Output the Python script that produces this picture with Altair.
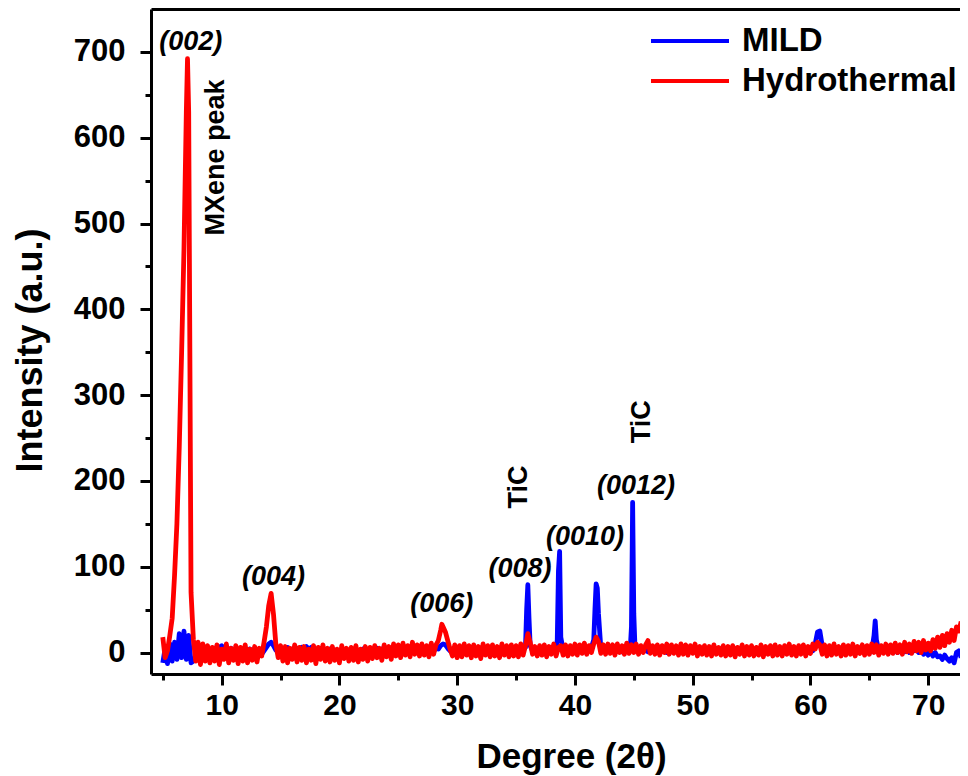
import altair as alt
import pandas as pd

FONT = "Liberation Sans"

# 2-theta grid: 5.0 .. 72.8 step 0.2 (rows of 10 = 2 degrees each)
deg_start = 5.0
deg_step = 0.2

hydro_rows = [
    [18, -6, 2, 20, 40, 90, 150, 240, 350, 470],        # 5.0
    [630, 630, 70, 15, -10, 12, -14, 10, -10, 8],       # 7.0
    [-12, 6, -10, 9, -14, 4, -8, 10, -12, 5],           # 9.0
    [-9, 8, -13, 6, -10, 9, -12, 4, -9, 7],             # 11.0
    [-11, 5, -4, 12, 30, 55, 69, 45, 10, -6],           # 13.0
    [8, -10, 7, -12, 5, -8, 9, -11, 6, -9],             # 15.0
    [7, -12, 4, -9, 8, -13, 6, -8, 9, -10],             # 17.0
    [5, -11, 7, -9, 4, -12, 8, -7, 5, -10],             # 19.0
    [6, -9, 8, -11, 4, -8, 7, -10, 6, -7],              # 21.0
    [8, -6, 5, -9, 9, -5, 7, -8, 10, -4],               # 23.0
    [9, -6, 11, -3, 8, -5, 12, -2, 9, -4],              # 25.0
    [10, -3, 8, -5, 11, -2, 9, 14, 26, 30],             # 27.0
    [24, 14, 4, -4, 9, -6, 8, -5, 10, -3],              # 29.0
    [8, -6, 9, -4, 7, -7, 10, -3, 8, -5],               # 31.0
    [9, -4, 7, -6, 10, -3, 8, -5, 9, -4],               # 33.0
    [8, -5, 10, -3, 8, 22, 12, -2, 7, -4],              # 35.0
    [8, -3, 9, -5, 7, -2, 10, -4, 6, 8],                # 37.0
    [-3, 9, -4, 8, -2, 10, -3, 9, -1, 11],              # 39.0
    [-2, 8, 0, 10, 18, 13, -1, 9, -2, 10],              # 41.0
    [-1, 9, -3, 10, 0, 8, -2, 11, -1, 9],               # 43.0
    [0, 10, -2, 8, 0, 9, 14, -1, 8, -2],                # 45.0
    [9, -3, 8, 0, 10, -2, 9, -1, 8, -3],                # 47.0
    [10, -2, 9, -3, 8, -1, 10, -4, 7, -2],              # 49.0
    [8, -3, 7, -4, 9, -2, 6, -3, 8, -4],                # 51.0
    [7, -3, 8, -5, 6, -2, 9, -4, 7, -3],                # 53.0
    [8, -4, 6, -3, 9, -5, 7, -2, 8, -4],                # 55.0
    [9, -3, 7, -4, 8, -2, 10, -3, 7, -4],               # 57.0
    [8, -2, 9, -4, 7, -1, 10, 4, 12, 9],                # 59.0
    [-2, 9, -4, 8, -3, 10, -2, 7, -4, 9],               # 61.0
    [-3, 8, -2, 10, -4, 7, -1, 9, -3, 8],               # 63.0
    [-2, 10, 0, 9, -3, 8, -1, 10, -2, 9],               # 65.0
    [-1, 11, 0, 9, -2, 12, 1, 10, -1, 13],              # 67.0
    [2, 12, 0, 14, 3, 11, 2, 15, 5, 18],                # 69.0
    [6, 20, 8, 22, 12, 26, 14, 30, 25, 36],             # 71.0
]

mild_rows = [
    [-12, 5, -13, 10, -10, 12, -8, 22, -6, 25],         # 5.0
    [-8, 20, -12, -10, -4, 2, -2, 3, -1, 2],            # 7.0
    [3, 0, 5, 1, 6, 8, 4, 7, 2, 5],                     # 9.0
    [1, 4, 0, 5, 2, 3, -1, 4, 1, 3],                    # 11.0
    [0, 3, -2, 2, 6, 10, 12, 8, 3, 5],                  # 13.0
    [2, 5, 1, 6, 3, 4, 0, 5, 2, 6],                     # 15.0
    [3, 7, 4, 6, 1, 3, -1, 2, 0, 3],                    # 17.0
    [1, 4, -1, 3, 0, 2, -2, 3, 1, 2],                   # 19.0
    [0, 3, -1, 2, 1, 4, 0, 3, -1, 4],                   # 21.0
    [2, 5, 1, 4, 0, 3, 2, 5, 1, 4],                     # 23.0
    [3, 1, 4, 2, 5, 1, 4, 2, 5, 3],                     # 25.0
    [2, 5, 1, 4, 3, 2, 5, 4, 8, 10],                    # 27.0
    [9, 5, 2, 4, 1, 3, 0, 4, 2, 3],                     # 29.0
    [1, 4, 2, 3, 0, 4, 1, 3, 2, 4],                     # 31.0
    [1, 3, 0, 4, 2, 3, 1, 4, 0, 3],                     # 33.0
    [2, 4, 1, 3, 6, 79, 8, 2, 1, 4],                    # 35.0
    [2, 3, 1, 4, 2, 3, 1, 3, 95, 18],                   # 37.0
    [3, 1, 4, 2, 3, 1, 4, 2, 3, 1],                     # 39.0
    [4, 2, 6, 15, 80, 45, 5, 2, 4, 1],                  # 41.0
    [3, 1, 4, 2, 3, 1, 4, 2, 3, 30],                    # 43.0
    [45, 3, 1, 4, 2, 3, 1, 4, 2, 3],                    # 45.0
    [1, 4, 2, 3, 0, 4, 1, 3, 2, 4],                     # 47.0
    [1, 3, 0, 4, 2, 3, 1, 4, 0, 3],                     # 49.0
    [2, 4, 1, 3, 0, 4, 2, 3, 1, 4],                     # 51.0
    [0, 3, 2, 4, 1, 3, 0, 4, 2, 3],                     # 53.0
    [1, 4, 0, 3, 2, 4, 1, 3, 0, 4],                     # 55.0
    [2, 3, 1, 4, 0, 3, 2, 4, 1, 3],                     # 57.0
    [0, 4, 2, 3, 1, 4, 2, 10, 24, 25],                  # 59.0
    [8, 2, 4, 1, 3, 0, 4, 2, 3, 1],                     # 61.0
    [4, 2, 3, 0, 4, 1, 3, 2, 4, 1],                     # 63.0
    [3, 1, 20, 15, 2, 3, 0, 4, 2, 3],                   # 65.0
    [1, 4, 0, 3, 5, 1, 3, 0, 4, 2],                     # 67.0
    [3, 0, 2, -2, 1, -3, 2, -4, 0, -5],                 # 69.0
    [-4, -8, -3, -7, -10, -6, -12, 0, 2, -6],           # 71.0
]

# extra points at peak tips (between grid points)
hydro_peak_deg = [7.1, 28.7]
hydro_peak_val = [692, 33]
mild_peak_deg = [35.9, 36.1, 38.5, 38.7, 41.7, 41.9, 42.1, 44.7, 44.9, 45.1, 65.5]
mild_peak_val = [50, 40, 15, 118, 50, 75, 25, 5, 175, 6, 37]

series_names = ["MILD", "Hydrothermal"]
series_colors = ["#0000FF", "#FF0000"]

hkl_labels = ["(002)", "(004)", "(006)", "(008)", "(0010)", "(0012)"]
hkl_deg = [7.37, 14.41, 28.69, 35.34, 40.86, 45.19]
hkl_int = [711, 88, 56, 97, 135, 194]

note_labels = ["MXene peak", "TiC", "TiC"]
note_deg = [9.53, 35.25, 45.70]
note_int = [577, 193, 269]

x_major = [10, 20, 30, 40, 50, 60, 70]
x_minor = [5, 15, 25, 35, 45, 55, 65]
y_major = [0, 100, 200, 300, 400, 500, 600, 700]
y_minor = [50, 150, 250, 350, 450, 550, 650]


def build(rows, pk_deg, pk_val, name):
    vals = [v for r in rows for v in r]
    degs = [round(deg_start + i * deg_step, 1) for i in range(len(vals))]
    d = pd.DataFrame({"deg": degs + pk_deg, "intensity": vals + pk_val})
    d["sample"] = name
    return d.sort_values("deg")


df = pd.concat([
    build(mild_rows, mild_peak_deg, mild_peak_val, "MILD"),
    build(hydro_rows, hydro_peak_deg, hydro_peak_val, "Hydrothermal"),
], ignore_index=True)

hkl_df = pd.DataFrame({"label": hkl_labels, "deg": hkl_deg, "intensity": hkl_int})
note_df = pd.DataFrame({"label": note_labels, "deg": note_deg, "intensity": note_int})

xscale = alt.Scale(domain=[4, 72.7], nice=False, zero=False)
yscale = alt.Scale(domain=[-25, 750], nice=False, zero=False)
cscale = alt.Scale(domain=series_names, range=series_colors)

legend = alt.Legend(
    orient="none", legendX=498, legendY=12, title=None,
    symbolType="stroke", symbolSize=78 * 78, symbolStrokeWidth=4,
    labelFont=FONT, labelFontSize=33, labelFontWeight="bold", labelColor="black",
    labelOffset=11, labelLimit=500, clipHeight=40, rowPadding=0, padding=0,
)

common_axis = dict(grid=False, domainColor="black", tickColor="black",
                   domainWidth=3, tickWidth=3, labelColor="black")

x_main = alt.Axis(
    orient="bottom", values=x_major, format="d", title="Degree (2θ)",
    titleFont=FONT, titleFontSize=35, titleFontWeight="bold", titleColor="black",
    titleX=420, titleY=93, titleBaseline="alphabetic", titleAlign="center",
    labelFont=FONT, labelFontSize=30, labelFontWeight="bold", labelPadding=5,
    labelFlush=False, labelOverlap=False, tickSize=11, **common_axis,
)
y_main = alt.Axis(
    orient="left", values=y_major, format="d", title="Intensity (a.u.)",
    titleFont=FONT, titleFontSize=36, titleFontWeight="bold", titleColor="black",
    titleX=-110, titleY=341, titleAngle=270, titleBaseline="alphabetic", titleAlign="center",
    labelFont=FONT, labelFontSize=31, labelFontWeight="bold", labelPadding=15,
    labelFlush=False, labelOverlap=False, tickSize=11, **common_axis,
)
x_top = alt.Axis(orient="top", labels=False, ticks=False, title=None, domain=True,
                 grid=False, domainColor="black", domainWidth=3)
x_min = alt.Axis(orient="bottom", values=x_minor, labels=False, title=None, domain=False,
                 tickSize=6, tickWidth=3, tickColor="black", grid=False)
y_min = alt.Axis(orient="left", values=y_minor, labels=False, title=None, domain=False,
                 tickSize=6, tickWidth=3, tickColor="black", grid=False)

base = alt.Chart(df)

blue = base.transform_filter(alt.datum.sample == "MILD").mark_line(
    strokeWidth=4.8, clip=True, strokeJoin="round"
).encode(
    x=alt.X("deg:Q", scale=xscale, axis=x_main),
    y=alt.Y("intensity:Q", scale=yscale, axis=y_main),
    color=alt.Color("sample:N", scale=cscale, legend=legend),
)

red = base.transform_filter(alt.datum.sample == "Hydrothermal").mark_line(
    strokeWidth=4.8, clip=True, strokeJoin="round"
).encode(
    x=alt.X("deg:Q", scale=xscale, axis=x_top),
    y=alt.Y("intensity:Q", scale=yscale, axis=None),
    color=alt.Color("sample:N", scale=cscale, legend=legend),
)

hkl = alt.Chart(hkl_df).mark_text(
    font=FONT, fontSize=27, fontWeight="bold", fontStyle="italic",
    align="center", baseline="middle", color="black"
).encode(
    x=alt.X("deg:Q", scale=xscale, axis=x_min),
    y=alt.Y("intensity:Q", scale=yscale, axis=y_min),
    text="label:N",
)

notes = alt.Chart(note_df).mark_text(
    font=FONT, fontSize=27, fontWeight="bold", angle=270,
    align="center", baseline="middle", color="black"
).encode(
    x=alt.X("deg:Q", scale=xscale, axis=None),
    y=alt.Y("intensity:Q", scale=yscale, axis=None),
    text="label:N",
)

chart = alt.layer(blue, red, hkl, notes).resolve_axis(
    x="independent", y="independent"
).properties(
    width=809, height=665,
    padding={"left": 143, "top": 1, "right": 0, "bottom": 102},
    autosize=alt.AutoSizeParams(type="none"),
    background="white",
).configure_view(stroke=None)

chart.save("out.html", embed_options={"renderer": "svg", "actions": False})
